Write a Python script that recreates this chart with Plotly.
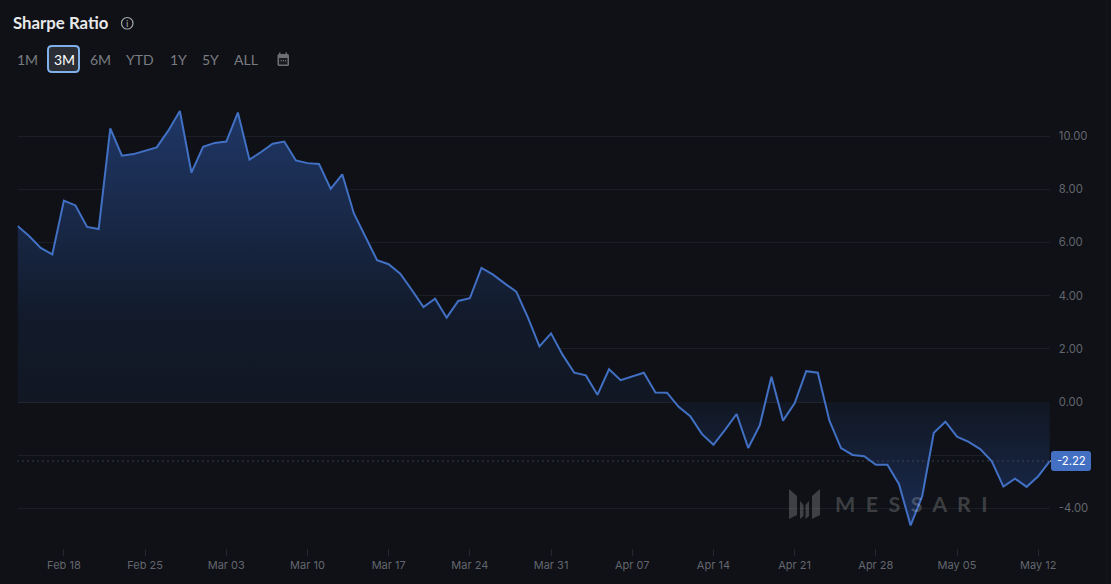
import pandas as pd
import plotly.graph_objects as go

W, H = 1111, 584
start_date = "2024-02-14"
sharpe = [6.62,6.24,5.79,5.55,7.57,7.39,6.58,6.50,10.29,9.26,9.32,9.44,9.57,10.2,10.94,8.62,9.59,9.74,9.79,10.88,
          9.11,9.40,9.71,9.79,9.08,8.98,8.95,8.01,8.56,7.09,6.24,5.33,5.18,4.82,4.21,3.57,3.88,3.17,3.80,3.90,
          5.04,4.79,4.46,4.15,3.18,2.09,2.58,1.77,1.10,1.00,0.27,1.23,0.82,0.95,1.10,0.36,0.35,-0.18,-0.53,-1.20,
          -1.61,-1.05,-0.45,-1.73,-0.87,0.95,-0.70,-0.05,1.16,1.10,-0.70,-1.73,-1.99,-2.04,-2.36,-2.36,-3.09,-4.64,-3.54,-1.16,
          -0.74,-1.30,-1.50,-1.77,-2.23,-3.18,-2.88,-3.19,-2.79,-2.22]
dates = pd.date_range(start_date, periods=len(sharpe), freq="D")
y_ticks = [-4, -2, 0, 2, 4, 6, 8, 10]
y_labels = ["-4.00", "", "0.00", "2.00", "4.00", "6.00", "8.00", "10.00"]
ranges = ["1M", "3M", "6M", "YTD", "1Y", "5Y", "ALL"]
range_x = [27, 64, 100, 140, 178, 210, 246]
last = sharpe[-1]

BG = "#0f1116"
WM = "rgba(255,255,255,0.2)"
px = lambda v: v / W
py = lambda v: 1 - v / H


def rrect(x0, y0, x1, y1, r):
    a, b, c, d = px(x0), px(x1), py(y0), py(y1)
    rx, ry = r / W, r / H
    return (f"M{a+rx},{c} L{b-rx},{c} Q{b},{c} {b},{c-ry} L{b},{d+ry} Q{b},{d} {b-rx},{d} "
            f"L{a+rx},{d} Q{a},{d} {a},{d+ry} L{a},{c-ry} Q{a},{c} {a+rx},{c} Z")


def poly(points):
    return "M" + " L".join(f"{px(x)},{py(y)}" for x, y in points) + " Z"


def paper_path(path, fill):
    return dict(type="path", xref="paper", yref="paper", path=path, fillcolor=fill, line=dict(width=0))


def paper_rect(x0, y0, x1, y1, fill):
    return dict(type="rect", xref="paper", yref="paper", x0=px(x0), x1=px(x1), y0=py(y1), y1=py(y0),
                fillcolor=fill, line=dict(width=0))


fig = go.Figure()
fig.add_trace(go.Scatter(
    x=dates, y=sharpe, mode="lines", fill="tozeroy",
    line=dict(color="#4170c4", width=2),
    fillgradient=dict(type="vertical", start=-5.0, stop=11.0,
                      colorscale=[[0, "#1b2d55"], [0.31, "#111723"], [0.5, "#121a2a"], [1, "#1f3766"]]),
    hoverinfo="skip", showlegend=False,
))

shapes = [
    dict(type="line", xref="paper", yref="paper", x0=px(1107), x1=px(1107), y0=0, y1=1,
         line=dict(color="#16181e", width=1)),
    dict(type="line", xref="paper", yref="y", x0=px(17.5), x1=px(1050), y0=last, y1=last,
         line=dict(color="#5f6f8c", width=1, dash="1px,4px")),
    dict(type="line", xref="paper", yref="y", x0=px(1050), x1=px(1055), y0=last, y1=last,
         line=dict(color="#ffffff", width=1)),
    paper_path(rrect(1051, 451, 1091, 471, 3), "#4470c4"),
    dict(type="path", xref="paper", yref="paper", path=rrect(48, 46, 79, 72, 4),
         fillcolor="#2b2e35", line=dict(color="#7fb0ea", width=2)),
    dict(type="circle", xref="paper", yref="paper", x0=px(121.5), x1=px(133), y0=py(29), y1=py(17.5),
         line=dict(color="#a5a7ab", width=1.2)),
    # calendar icon
    paper_path(rrect(277.5, 54, 289, 66, 1.5), "#6d6f74"),
    paper_rect(279, 52.5, 280.5, 55, "#6d6f74"),
    paper_rect(285.5, 52.5, 287, 55, "#6d6f74"),
    paper_rect(279, 58, 287.5, 64.5, "#1a1c21"),
    paper_rect(280.5, 60, 281.7, 61.2, "#6d6f74"),
    paper_rect(282.8, 60, 284, 61.2, "#6d6f74"),
    paper_rect(285, 60, 286.2, 61.2, "#6d6f74"),
    # watermark logo
    paper_path(poly([(789, 489), (797, 496), (797, 515), (789, 519)]), WM),
    paper_path(poly([(800, 501), (803.5, 505), (803.5, 516), (800, 519)]), WM),
    paper_path(poly([(805.5, 505), (809, 501), (809, 516), (805.5, 519)]), WM),
    paper_path(poly([(812, 496), (820, 489), (820, 515), (812, 519)]), WM),
]

ann = [
    dict(x=px(10.5), y=py(23), text="<b>Sharpe Ratio</b>", xanchor="left",
         font=dict(family="Lato", size=16.8, color="#e8e9ea")),
    dict(x=px(127.2), y=py(23.3), text="i", font=dict(family="Lato", size=10, color="#a5a7ab")),
    dict(x=px(1071), y=py(461), text="-2.22", font=dict(family="Inter", size=11.3, color="#ffffff")),
    dict(x=px(911.5), y=py(503.5), text="<b>M  E  S  S  A  R  I</b>", font=dict(family="Lato", size=21.5, color=WM)),
]
for label, x in zip(ranges, range_x):
    ann.append(dict(x=px(x), y=py(59.5), text=label,
                    font=dict(family="Lato", size=14, color="#ffffff" if label == "3M" else "#7a7c81")))
for a in ann:
    a.update(xref="paper", yref="paper", showarrow=False, yanchor="middle")
    a.setdefault("xanchor", "center")

fig.update_layout(
    width=W, height=H, margin=dict(l=0, r=0, t=0, b=0, autoexpand=False),
    paper_bgcolor=BG, plot_bgcolor=BG, showlegend=False,
    shapes=shapes, annotations=ann,
    xaxis=dict(domain=[px(17.5), px(1049.8)], range=[dates[0], dates[-1]], type="date",
               tick0="2024-02-18", dtick=7 * 86400000, tickformat="%b %d", ticks="outside", ticklen=7,
               tickcolor="#24272d", tickwidth=1, showgrid=False, zeroline=False, showline=False,
               tickfont=dict(family="Inter", size=11, color="#63666e")),
    yaxis=dict(domain=[py(548), py(80)], range=[(402 - 548) / 26.6, (402 - 80) / 26.6], side="right",
               tickvals=y_ticks, ticktext=y_labels, showgrid=True, gridcolor="#1a1e26", gridwidth=1,
               zeroline=True, zerolinecolor="#1e2430", zerolinewidth=1, ticks="", showline=False,
               ticklabelstandoff=8,
               tickfont=dict(family="Inter", size=11.3, color="#63666e")),
)
fig.write_html("out.html", config=dict(displayModeBar=False),
               post_script="document.body.style.margin='0';document.body.style.background='#0f1116';")
